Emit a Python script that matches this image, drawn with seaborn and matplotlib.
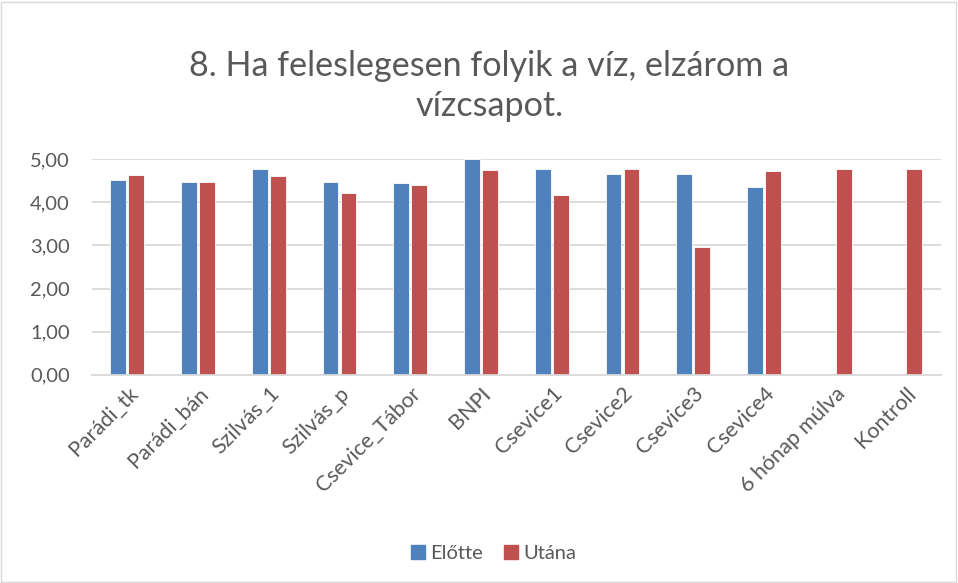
import matplotlib
matplotlib.use("Agg")
import matplotlib.pyplot as plt
import seaborn as sns
import pandas as pd
import numpy as np
from matplotlib.lines import Line2D
from matplotlib.patches import Rectangle

categories = ["Parádi_tk", "Parádi_bán", "Szilvás_1", "Szilvás_p", "Csevice_Tábor",
              "BNPI", "Csevice1", "Csevice2", "Csevice3", "Csevice4",
              "6 hónap múlva", "Kontroll"]
elotte = [4.52, 4.46, 4.77, 4.46, 4.44, 5.00, 4.77, 4.66, 4.65, 4.36, np.nan, np.nan]
utana = [4.63, 4.46, 4.60, 4.21, 4.39, 4.75, 4.18, 4.78, 2.96, 4.73, 4.77, 4.77]
series = ["Előtte", "Utána"]
colors = ["#4F81BD", "#C0504D"]
yticks = [0, 1, 2, 3, 4, 5]
title = "8. Ha feleslegesen folyik a víz, elzárom a\nvízcsapot."

df = pd.DataFrame({
    "cat": categories * 2,
    "val": elotte + utana,
    "series": [series[0]] * len(categories) + [series[1]] * len(categories),
})

sns.set_theme(style="white")
plt.rcParams["font.family"] = ["Lato", "DejaVu Sans"]
text_color = "#595959"

fig = plt.figure(figsize=(9.58, 5.83), dpi=100)
ax = fig.add_axes([0.096, 0.357, 0.886, 0.370])

sns.barplot(data=df, x="cat", y="val", hue="series", palette=colors,
            width=0.51, gap=0.12, ax=ax, legend=False, saturation=1,
            edgecolor="white", linewidth=0.6, order=categories, hue_order=series)

ax.set_ylim(0, 5)
ax.set_xlim(-0.5, len(categories) - 0.5)
ax.set_yticks(yticks)
ax.set_yticklabels([f"{v:.2f}".replace(".", ",") for v in yticks],
                   fontsize=14.5, color=text_color)
ax.yaxis.grid(True, color="#D9D9D9", linewidth=1.3)
ax.set_axisbelow(True)
for s in ["top", "right", "left"]:
    ax.spines[s].set_visible(False)
ax.spines["bottom"].set_color("#D9D9D9")
ax.spines["bottom"].set_linewidth(1.3)
ax.tick_params(axis="y", length=0, pad=16)
ax.tick_params(axis="x", length=0, pad=6)
ax.set_xticks(range(len(categories)))
ax.set_xticklabels(categories, rotation=45, ha="right", rotation_mode="anchor",
                   fontsize=15.5, color=text_color)
ax.set_xlabel("")
ax.set_ylabel("")

fig.text(0.511, 0.852, title, ha="center", va="center", fontsize=24.6,
         color=text_color, linespacing=1.3)

handles = [Line2D([0], [0], marker="s", linestyle="none", markersize=10,
                  markerfacecolor=c, markeredgecolor=c) for c in colors]
fig.legend(handles, series, loc="center", bbox_to_anchor=(0.515, 0.051), ncol=2,
           frameon=False, fontsize=14.5, labelcolor=text_color,
           handlelength=0.8, handletextpad=0.2, columnspacing=1.0)

fig.patches.append(Rectangle((0.001, 0.002), 0.997, 0.995, transform=fig.transFigure,
                             fill=False, edgecolor="#D9D9D9", linewidth=1))

fig.savefig("out.png", dpi=100, facecolor="white")
